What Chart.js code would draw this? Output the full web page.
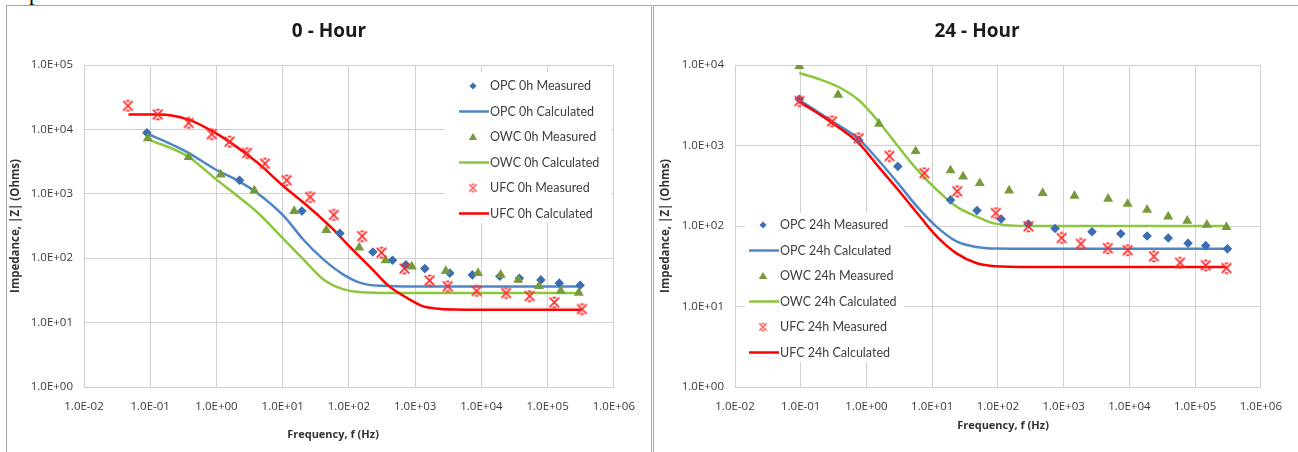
<!DOCTYPE html>
<html>
<head>
<meta charset="utf-8">
<script src="https://cdn.jsdelivr.net/npm/chart.js@4.4.0/dist/chart.umd.min.js"></script>
<style>
  body { margin: 0; background: #fff; width: 1298px; height: 452px; overflow: hidden; position: relative; font-family: Lato, sans-serif; }
  .panel { position: absolute; top: 5px; height: 470px; border: 1px solid #a6a6a6; box-sizing: border-box; }
  #p0 { left: 6px; width: 646px; }
  #p24 { left: 653px; width: 660px; }
  canvas { position: absolute; }
  #c0 { left: 7px; top: 6px; }
  #c24 { left: 655px; top: 6px; }
  .frag { position: absolute; left: 29px; top: -18px; font: 22px "Liberation Serif", serif; line-height: 22px; }
</style>
</head>
<body>
<div class="frag">p</div>
<div class="panel" id="p0"></div>
<div class="panel" id="p24"></div>
<canvas id="c0" width="641" height="446"></canvas>
<canvas id="c24" width="640" height="446"></canvas>
<script>
// axis ticks
const freqTicks = [1e-2, 1e-1, 1e0, 1e1, 1e2, 1e3, 1e4, 1e5, 1e6];
const zTicks0h = [1e0, 1e1, 1e2, 1e3, 1e4, 1e5];
const zTicks24h = [1e0, 1e1, 1e2, 1e3, 1e4];

// ---- 0 - Hour ----
const opc0hFreq = [0.089, 2.23, 19.5, 73, 230, 455, 725, 1400, 3340, 7300, 19000, 37500, 79000, 150000, 310000];
const opc0hZ    = [8860, 1620, 540, 243, 125, 93, 79, 69, 58.6, 55, 52.5, 48.8, 46, 41, 38];
const opc0hCalcFreq = [0.089, 0.37, 1, 2.24, 4.17, 10.5, 20.4, 40.7, 81.3, 158, 316, 1000, 10000, 316000];
const opc0hCalcZ    = [8710, 4370, 2340, 1550, 1020, 447, 195, 96.6, 56.2, 40.7, 37.2, 36.3, 36.3, 36.3];

const owc0hFreq = [0.092, 0.38, 1.16, 3.73, 14.9, 45.6, 143, 357, 890, 2900, 8900, 19600, 36000, 74000, 158000, 295000];
const owc0hZ    = [7260, 3720, 1990, 1125, 540, 274, 146, 93, 74, 63, 58.6, 55, 46, 37, 31, 29];
const owc0hCalcFreq = [0.091, 0.37, 1, 2.24, 4.17, 10.5, 20.4, 40.7, 81.3, 158, 398, 3160, 316000];
const owc0hCalcZ    = [7080, 3800, 1660, 871, 513, 195, 96.6, 47.3, 33.1, 29.5, 28.8, 28.8, 28.8];

const ufc0hFreq = [0.046, 0.13, 0.38, 0.85, 1.58, 2.9, 5.4, 11.5, 26, 59, 158, 310, 690, 1650, 3100, 8500, 23600, 53500, 126000, 330000];
const ufc0hZ    = [23200, 17000, 12600, 8460, 6450, 4300, 2940, 1620, 890, 470, 220, 122, 69, 45, 36.6, 31, 28.8, 25.8, 20.6, 16.2];
const ufc0hCalcFreq = [0.047, 0.133, 0.37, 0.84, 1.66, 4.2, 10.2, 25.7, 57.5, 100, 224, 398, 794, 1260, 2000, 4000, 31600, 330000];
const ufc0hCalcZ    = [17000, 17000, 14300, 9550, 6170, 3020, 1320, 603, 282, 155, 67.6, 37.2, 23.4, 18.2, 16.6, 16.0, 15.8, 15.8];

// ---- 24 - Hour ----
const opc24hFreq = [0.095, 0.76, 3.0, 19, 48, 112, 290, 740, 2700, 7400, 18600, 39000, 78000, 145000, 310000];
const opc24hZ    = [3760, 1170, 550, 211, 156, 122, 106, 93, 85, 80, 75, 71, 61, 57, 52];
const opc24hCalcFreq = [0.095, 0.30, 0.76, 1.51, 3.02, 5.89, 11.7, 23.4, 46.8, 91.2, 316, 3160, 302000];
const opc24hCalcZ    = [3670, 2000, 1200, 661, 339, 174, 97.7, 64.6, 55, 52.5, 52.1, 52.1, 52.1];

const owc24hFreq = [0.095, 0.37, 1.55, 5.6, 19, 29.5, 53, 148, 480, 1460, 4750, 9400, 18600, 39000, 76000, 151000, 300000];
const owc24hZ    = [9700, 4250, 1860, 850, 490, 412, 340, 275, 257, 237, 218, 188, 159, 131, 116, 103.5, 97];
const owc24hCalcFreq = [0.095, 0.174, 0.37, 0.76, 1.51, 3.02, 5.89, 11.7, 23.4, 46.8, 91.2, 316, 3160, 302000];
const owc24hCalcZ    = [7940, 6840, 5370, 3670, 2000, 977, 501, 282, 174, 132, 107, 100, 100, 100];

const ufc24hFreq = [0.095, 0.3, 0.76, 2.24, 7.6, 24, 93, 290, 930, 1830, 4700, 9400, 23600, 59000, 145000, 300000];
const ufc24hZ    = [3570, 2000, 1230, 740, 453, 270, 145, 99, 71, 60, 53, 50, 42, 35, 32.5, 30];
const ufc24hCalcFreq = [0.095, 0.30, 0.76, 1.51, 3.02, 5.89, 11.7, 23.4, 46.8, 91.2, 316, 3160, 302000];
const ufc24hCalcZ    = [3510, 1910, 1070, 550, 282, 145, 74.1, 45.7, 34.7, 31.6, 30.9, 30.9, 30.9];

const BLUE_PT = '#3c6db3', BLUE_LN = '#4f86c6';
const GREEN_PT = '#779b3a', GREEN_LN = '#8cc63e';
const RED_PT = '#ff2b2b', RED_LN = '#ff0000';
const GRID = '#d0d0d0';
const FONT = 'Lato, "Open Sans", sans-serif';
const WIDE = '"Open Sans", Lato, sans-serif';

// excel style "x" marker: a cross with short caps
function makeXMark(color, size) {
    const c = document.createElement('canvas');
    c.width = size; c.height = size;
    const g = c.getContext('2d');
    const m = size / 2, a = size * 0.37, cap = size * 0.14;
    g.strokeStyle = color;
    g.lineWidth = 1.7;
    g.beginPath();
    g.moveTo(m - a, m - a); g.lineTo(m + a, m + a);
    g.moveTo(m + a, m - a); g.lineTo(m - a, m + a);
    g.moveTo(m - cap, m - a); g.lineTo(m + cap, m - a);
    g.moveTo(m - cap, m + a); g.lineTo(m + cap, m + a);
    g.stroke();
    return c;
}
const xMark = makeXMark(RED_PT, 13);
const xMarkLegend = makeXMark('#ff7070', 10);

function sciLabel(v) {
    const e = Math.round(Math.log10(v));
    return '1.0E' + (e < 0 ? '-' : '+') + String(Math.abs(e)).padStart(2, '0');
}

function pts(fs, zs) {
    return fs.map((f, i) => ({ x: f, y: zs[i] }));
}

function measured(label, fs, zs, style, color, radius, order) {
    return {
        label: label, data: pts(fs, zs), showLine: false,
        pointStyle: style, pointRadius: radius, pointHoverRadius: radius,
        pointBackgroundColor: color, pointBorderColor: color, pointBorderWidth: 0,
        order: order
    };
}

function calculated(label, fs, zs, color, order) {
    return {
        label: label, data: pts(fs, zs), showLine: true,
        borderColor: color, borderWidth: 2.5, pointRadius: 0,
        cubicInterpolationMode: 'monotone', order: order
    };
}

function drawMarker(ctx, style, color, x, y) {
    ctx.fillStyle = color;
    ctx.beginPath();
    if (style === 'rectRot') {
        ctx.moveTo(x, y - 3.5); ctx.lineTo(x + 3.5, y); ctx.lineTo(x, y + 3.5); ctx.lineTo(x - 3.5, y);
        ctx.closePath(); ctx.fill();
    } else if (style === 'triangle') {
        ctx.moveTo(x, y - 4); ctx.lineTo(x + 4.2, y + 3); ctx.lineTo(x - 4.2, y + 3);
        ctx.closePath(); ctx.fill();
    } else {
        ctx.drawImage(xMarkLegend, x - 5, y - 5);
    }
}

const panelPlugin = {
    id: 'panel',
    beforeDatasetsDraw(chart, args, o) {
        const ctx = chart.ctx;
        const L = o.legend;
        ctx.save();
        ctx.fillStyle = '#fff';
        ctx.fillRect(L.x, L.y, L.w, L.h);
        ctx.font = '12.5px ' + FONT;
        ctx.textBaseline = 'middle';
        ctx.textAlign = 'left';
        chart.data.datasets.forEach((ds, i) => {
            const y = L.row0 + i * L.rowH;
            if (ds.showLine) {
                ctx.strokeStyle = ds.borderColor;
                ctx.lineWidth = ds.borderWidth;
                ctx.beginPath(); ctx.moveTo(L.line0, y); ctx.lineTo(L.line1, y); ctx.stroke();
            } else {
                drawMarker(ctx, ds.pointStyle, ds.pointBackgroundColor, L.mark, y);
            }
            ctx.fillStyle = '#404040';
            ctx.fillText(ds.label, L.text, y);
        });
        ctx.restore();
    },
    afterDraw(chart, args, o) {
        const ctx = chart.ctx;
        ctx.save();
        ctx.fillStyle = '#1a1a1a';
        ctx.textAlign = 'center';
        ctx.textBaseline = 'middle';
        ctx.font = 'bold 19px ' + WIDE;
        ctx.fillText(o.title, o.titleX, o.titleY);
        ctx.fillStyle = '#333';
        ctx.font = 'bold 11px ' + WIDE;
        ctx.fillText('Frequency, f (Hz)', o.xTitleX, o.xTitleY);
        ctx.restore();
    }
};

function makeChart(id, d) {
    return new Chart(document.getElementById(id), {
        type: 'line',
        data: {
            datasets: [
                measured(d.names[0], d.opcF, d.opcZ, 'rectRot', BLUE_PT, 4.8, 2),
                calculated(d.names[1], d.opcCF, d.opcCZ, BLUE_LN, 5),
                measured(d.names[2], d.owcF, d.owcZ, 'triangle', GREEN_PT, 5.8, 1),
                calculated(d.names[3], d.owcCF, d.owcCZ, GREEN_LN, 4),
                measured(d.names[4], d.ufcF, d.ufcZ, xMark, RED_PT, 6, 0),
                calculated(d.names[5], d.ufcCF, d.ufcCZ, RED_LN, 3)
            ]
        },
        options: {
            responsive: false,
            animation: false,
            layout: { padding: { left: 0, right: d.padRight, top: 59, bottom: 0 } },
            plugins: {
                legend: { display: false },
                tooltip: { enabled: false },
                panel: d.panel
            },
            scales: {
                x: {
                    type: 'logarithmic', min: 1e-2, max: 1e6,
                    afterBuildTicks: s => { s.ticks = freqTicks.map(v => ({ value: v })); },
                    afterFit: s => { s.height = 65; },
                    ticks: {
                        callback: v => sciLabel(v), autoSkip: false, maxRotation: 0,
                        padding: 13, color: '#3a3a3a', font: { family: WIDE, size: 11.5 }
                    },
                    grid: { color: GRID, drawTicks: false },
                    border: { color: GRID }
                },
                y: {
                    type: 'logarithmic', min: d.zTicks[0], max: d.zTicks[d.zTicks.length - 1],
                    afterBuildTicks: s => { s.ticks = d.zTicks.map(v => ({ value: v })); },
                    afterFit: s => { s.width = d.yWidth; },
                    ticks: {
                        callback: v => sciLabel(v), autoSkip: false,
                        padding: 11, color: '#3a3a3a', font: { family: WIDE, size: 11.5 }
                    },
                    grid: { color: GRID, drawTicks: false },
                    border: { color: GRID },
                    title: {
                        display: true, text: 'Impedance, |Z| (Ohms)', color: '#333',
                        font: { family: WIDE, size: 11.5, weight: 'bold' }, padding: { top: d.yTitlePad }
                    }
                }
            }
        },
        plugins: [panelPlugin]
    });
}

makeChart('c0', {
    names: ['OPC 0h Measured', 'OPC 0h Calculated', 'OWC 0h Measured', 'OWC 0h Calculated', 'UFC 0h Measured', 'UFC 0h Calculated'],
    opcF: opc0hFreq, opcZ: opc0hZ, opcCF: opc0hCalcFreq, opcCZ: opc0hCalcZ,
    owcF: owc0hFreq, owcZ: owc0hZ, owcCF: owc0hCalcFreq, owcCZ: owc0hCalcZ,
    ufcF: ufc0hFreq, ufcZ: ufc0hZ, ufcCF: ufc0hCalcFreq, ufcCZ: ufc0hCalcZ,
    zTicks: zTicks0h, yWidth: 77, padRight: 26, yTitlePad: 2,
    panel: {
        title: '0 - Hour', titleX: 322, titleY: 26, xTitleX: 326, xTitleY: 429,
        legend: { x: 438, y: 66, w: 166, h: 151, mark: 466, line0: 452, line1: 482, text: 483, row0: 80, rowH: 25.5 }
    }
});

makeChart('c24', {
    names: ['OPC 24h Measured', 'OPC 24h Calculated', 'OWC 24h Measured', 'OWC 24h Calculated', 'UFC 24h Measured', 'UFC 24h Calculated'],
    opcF: opc24hFreq, opcZ: opc24hZ, opcCF: opc24hCalcFreq, opcCZ: opc24hCalcZ,
    owcF: owc24hFreq, owcZ: owc24hZ, owcCF: owc24hCalcFreq, owcCZ: owc24hCalcZ,
    ufcF: ufc24hFreq, ufcZ: ufc24hZ, ufcCF: ufc24hCalcFreq, ufcCZ: ufc24hCalcZ,
    zTicks: zTicks24h, yWidth: 80, padRight: 24, yTitlePad: 4,
    panel: {
        title: '24 - Hour', titleX: 322, titleY: 26, xTitleX: 348, xTitleY: 420,
        legend: { x: 90, y: 207, w: 159, h: 149, mark: 108, line0: 94, line1: 124, text: 125, row0: 219, rowH: 25.5 }
    }
});
</script>
</body>
</html>
